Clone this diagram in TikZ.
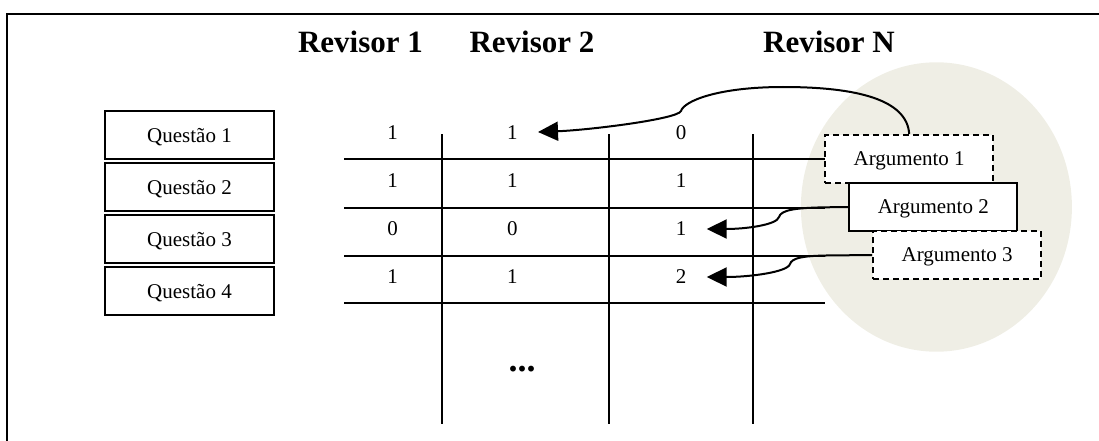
\documentclass[tikz,border=0pt]{standalone}
\usepackage{fontspec}
\setmainfont{Liberation Serif}
\usetikzlibrary{arrows.meta}
\definecolor{cloudfill}{RGB}{239,238,229}
\newcommand*\rulewidth{2pt}
\tikzset{
    question/.style={
        draw,
        line width=\rulewidth,
        rectangle,
        fill=white,
        minimum width=169pt,
        minimum height=48pt,
        inner sep=0pt,
        text depth=0pt,
        font=\fontsize{21}{24}\selectfont
    },
    argument/.style={question, minimum width=168pt},
    argdashed/.style={argument, dash pattern=on 6pt off 4pt},
    score/.style={
        minimum width=51pt,
        minimum height=24pt,
        inner sep=0pt,
        font=\fontsize{21}{24}\selectfont
    },
    reviewer/.style={anchor=base, font=\bfseries\fontsize{31}{36}\selectfont},
    pointer/.style={line width=\rulewidth, -{Triangle[length=20pt,width=19pt]}}
}

\begin{document}
\begin{tikzpicture}[x=1pt,y=-1pt]
    \useasboundingbox (0,0) rectangle (1099,441);

    % Shaded cloud behind the arguments.
    \fill[cloudfill] (936.4,207) ellipse [x radius=135.5pt, y radius=144.7pt];

    % Frame (top and left only).
    \draw[line width=\rulewidth] (7,441) -- (7,14) -- (1099,14);

    % Column headers.
    \node[reviewer] (r1) at (360.5,52.3) {Revisor 1};
    \node[reviewer] (r2) at (532,52.3) {Revisor 2};
    \node[reviewer] (rn) at (829,52.3) {Revisor N};

    % Table rules.
    \foreach \y in {159.3,207.5,255.5,303.3}
        \draw[line width=\rulewidth] (344,\y) -- (825,\y);
    \foreach \x in {441.7,609.3,753.3}
        \draw[line width=\rulewidth] (\x,134) -- (\x,424);

    % The questions.
    \foreach \i in {1,...,4}
        \node[question] (q\i) at (189.5,{135+52*(\i-1)}) {Questão \i};

    % Scores: row/revisor 1/revisor 2/revisor N
    \foreach \row/\a/\b/\c [count=\r] in {133/1/1/0,181/1/1/1,229/0/0/1,277/1/1/2} {
        \node[score] (v\r1) at (392.7,\row) {\a};
        \node[score] (v\r2) at (512.3,\row) {\b};
        \node[score] (v\r3) at (681,\row) {\c};
    }
    \node[anchor=base, font=\bfseries\fontsize{36}{40}\selectfont] (more) at (522,371) {...};

    % The arguments.
    \node[argdashed] (a1) at (909.2,158.9) {Argumento 1};
    \node[argument] (a2) at (933.3,207) {Argumento 2};
    \node[argdashed] (a3) at (957.2,255) {Argumento 3};

    % Pointers from the arguments to the scores.
    \draw[pointer] (a1.north) .. controls (907,100) and (858,87) .. (783,87)
        .. controls (718,87) and (684,101) .. (681,111)
        .. controls (678,119) and (590,130) .. (v12);
    \draw[pointer] (a2.west) -- (826,207.3) .. controls (795,207.8) and (781,210) .. (779,217)
        .. controls (777,225) and (745,229) .. (v33);
    \draw[pointer] (a3.west) -- (826,255.5) .. controls (802,256) and (792,258) .. (790,264)
        .. controls (788,272) and (750,277) .. (v43);

\end{tikzpicture}
\end{document}
